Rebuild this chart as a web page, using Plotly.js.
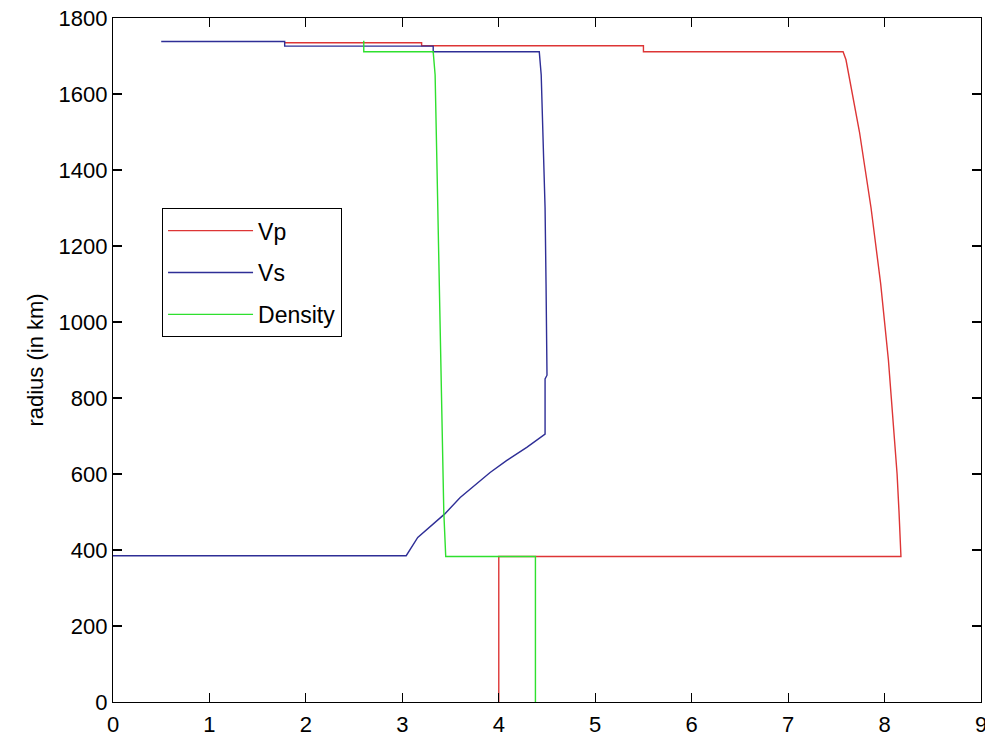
<!DOCTYPE html>
<html>
<head>
<meta charset="utf-8">
<script src="https://cdn.plot.ly/plotly-3.0.1.min.js"></script>
<style>
html,body{margin:0;padding:0;background:#fff;}
#chart{width:985px;height:739px;}
</style>
</head>
<body>
<div id="chart"></div>
<script>
// Vp (km/s) vs radius (km)
var vpX = [1.78, 3.2, 3.2, 5.5, 5.5, 7.57, 7.60, 7.63, 7.67, 7.74, 7.80, 7.86, 7.91, 7.96, 8.00, 8.04, 8.07, 8.10, 8.13, 8.15, 8.17, 8.17, 4.0, 4.0];
var vpY = [1735, 1735, 1727, 1727, 1711, 1711, 1690, 1650, 1600, 1500, 1400, 1300, 1200, 1100, 1000, 900, 800, 700, 600, 500, 400, 383, 383, 0];

// Vs (km/s) vs radius (km)
var vsX = [0.5, 1.78, 1.78, 3.32, 3.32, 4.42, 4.44, 4.46, 4.48, 4.49, 4.50, 4.50, 4.48, 4.48, 4.29, 4.08, 3.91, 3.77, 3.60, 3.44, 3.28, 3.16, 3.04, 0];
var vsY = [1738, 1738, 1726, 1726, 1711, 1711, 1650, 1500, 1300, 1100, 900, 860, 850, 705, 670, 635, 604, 574, 538, 495, 459, 433, 385, 385];

// Density (g/cm3) vs radius (km)
var densX = [2.6, 2.6, 3.32, 3.34, 3.36, 3.39, 3.41, 3.43, 3.45, 4.38, 4.38];
var densY = [1740, 1711, 1711, 1650, 1400, 1000, 700, 500, 383, 383, 0];

var seriesNames = ['Vp', 'Vs', 'Density'];
var xTicks = [0, 1, 2, 3, 4, 5, 6, 7, 8, 9];
var yTicks = [0, 200, 400, 600, 800, 1000, 1200, 1400, 1600, 1800];

var FONT = 'Liberation Sans, Arial, Helvetica, sans-serif';

var traces = [
  {x: vpX, y: vpY, name: seriesNames[0], legendgroup: 'a', mode: 'lines', line: {color: '#dd3535', width: 1.4}},
  {x: vsX, y: vsY, name: seriesNames[1], legendgroup: 'b', mode: 'lines', line: {color: '#2e2e96', width: 1.4}},
  {x: densX, y: densY, name: seriesNames[2], legendgroup: 'c', mode: 'lines', line: {color: '#2ee02e', width: 1.4}}
];

var axisCommon = {
  showgrid: false, zeroline: false,
  showline: true, linecolor: '#000', linewidth: 1.2,
  mirror: 'allticks', ticks: 'inside', ticklen: 9, tickwidth: 1.2, tickcolor: '#000',
  tickfont: {family: FONT, size: 22, color: '#000'},
  ticklabeloverflow: 'allow'
};

var layout = {
  width: 985, height: 739,
  margin: {l: 113, r: 4, t: 18, b: 37},
  paper_bgcolor: '#fff', plot_bgcolor: '#fff',
  font: {family: FONT, size: 23, color: '#000'},
  showlegend: true,
  legend: {
    x: 0.0565, y: 0.722, xanchor: 'left', yanchor: 'top',
    bgcolor: '#fff', bordercolor: '#000', borderwidth: 1,
    font: {family: FONT, size: 23, color: '#000'},
    itemwidth: 85, tracegroupgap: 9, traceorder: 'grouped'
  },
  xaxis: Object.assign({}, axisCommon, {
    range: [0, 9], tickvals: xTicks, ticktext: xTicks.map(String),
    ticklabelstandoff: 2
  }),
  yaxis: Object.assign({}, axisCommon, {
    range: [0, 1800], tickvals: yTicks, ticktext: yTicks.map(String),
    title: {text: 'radius (in km)', font: {family: FONT, size: 22, color: '#000'}, standoff: 8}
  })
};

Plotly.newPlot('chart', traces, layout, {displayModeBar: false, staticPlot: true});
</script>
</body>
</html>
